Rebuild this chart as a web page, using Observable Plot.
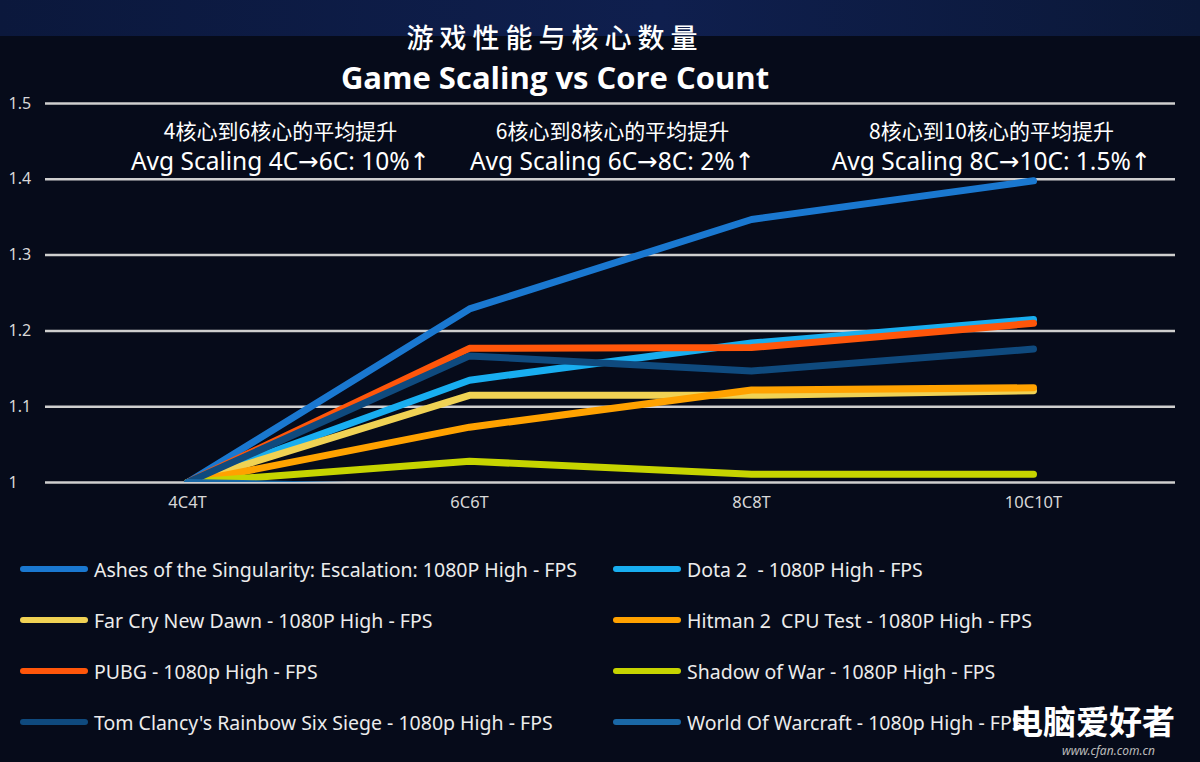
<!DOCTYPE html>
<html><head><meta charset="utf-8">
<script src="https://cdn.jsdelivr.net/npm/d3@7"></script>
<script src="https://cdn.jsdelivr.net/npm/@observablehq/plot@0.6"></script>
<style>
html,body{margin:0;padding:0;}
body{width:1200px;height:762px;overflow:hidden;background:#060b1a;font-family:"Noto Sans","Noto Sans CJK SC",sans-serif;color:#fff;position:relative;}
#band{position:absolute;left:0;top:0;width:1200px;height:36px;background:linear-gradient(90deg,#0b183c,#0f1f4e 55%,#0b1838);}
.t{position:absolute;left:0;width:1110px;text-align:center;color:#fff;white-space:nowrap;}
#t1{top:18px;line-height:38px;font-size:27px;font-weight:500;letter-spacing:6px;font-family:"Noto Sans CJK SC",sans-serif;}
#t2{top:55px;line-height:44px;font-size:31px;font-weight:700;font-family:"Open Sans","Noto Sans",sans-serif;}
#chart{position:absolute;left:0;top:90px;}
#legend{position:absolute;left:0;top:545px;width:1200px;}
.li{position:absolute;display:flex;align-items:center;height:26px;font-size:19.5px;color:#ececec;white-space:pre;}
.sw{width:68px;height:6px;border-radius:3px;margin-right:6px;}
#wm{position:absolute;left:1010px;top:700px;font-size:33px;font-weight:700;color:#fff;font-family:"Noto Sans CJK SC",sans-serif;line-height:40px;}
#wm2{position:absolute;left:1062px;top:742px;font-size:12px;font-style:italic;color:#bbb;}
</style></head>
<body>
<div id="band"></div>
<div class="t" id="t1">游戏性能与核心数量</div>
<div class="t" id="t2">Game Scaling vs Core Count</div>
<div id="chart"></div>
<div id="legend"></div>
<div id="wm">电脑爱好者</div>
<div id="wm2">www.cfan.com.cn</div>
<script>
const categories = ["4C4T", "6C6T", "8C8T", "10C10T"];
const seriesNames = [
  "Ashes of the Singularity: Escalation: 1080P High - FPS",
  "Dota 2  - 1080P High - FPS",
  "Far Cry New Dawn - 1080P High - FPS",
  "Hitman 2  CPU Test - 1080P High - FPS",
  "PUBG - 1080p High - FPS",
  "Shadow of War - 1080P High - FPS",
  "Tom Clancy's Rainbow Six Siege - 1080p High - FPS",
  "World Of Warcraft - 1080p High - FPS"
];
const seriesColors = ["#1a78d0", "#18aef0", "#f0d254", "#ffa200", "#ff560a", "#c6d400", "#0f4a7e", "#1a68a6"];
const ashes   = [1, 1.229, 1.347, 1.398];
const dota    = [1, 1.135, 1.184, 1.215];
const farCry  = [1, 1.115, 1.115, 1.121];
const hitman  = [1, 1.073, 1.122, 1.125];
const pubg    = [1, 1.177, 1.178, 1.210];
const shadow  = [1, 1.028, 1.011, 1.011];
const rainbow = [1, 1.167, 1.147, 1.176];
const wow     = [1, 0.993, 0.992, 0.993];
const seriesValues = [ashes, dota, farCry, hitman, pubg, shadow, rainbow, wow];
const yTicks = [1, 1.1, 1.2, 1.3, 1.4, 1.5];
const annoFrom = ["4C4T", "6C6T", "10C10T"];
const annoCn = ["4核心到6核心的平均提升", "6核心到8核心的平均提升", "8核心到10核心的平均提升"];
const annoEn = ["Avg Scaling 4C→6C: 10%↑", "Avg Scaling 6C→8C: 2%↑", "Avg Scaling 8C→10C: 1.5%↑"];

const rows = [];
seriesNames.forEach((s, i) => categories.forEach((c, j) => rows.push({series: s, cat: c, value: seriesValues[i][j]})));

const annoOffsets = [93, 143, -42];
const annoMarks = [];
annoFrom.forEach((c, i) => {
  annoMarks.push(Plot.text([{cat: c, v: 1.4625, t: annoCn[i]}], {x: "cat", y: "v", text: "t", dx: annoOffsets[i], fill: "#fff", fontSize: 21, fontFamily: "Noto Sans CJK SC, sans-serif"}));
  annoMarks.push(Plot.text([{cat: c, v: 1.4225, t: annoEn[i]}], {x: "cat", y: "v", text: "t", dx: annoOffsets[i], fill: "#fff", fontSize: 24.5, fontFamily: "Noto Sans, DejaVu Sans, sans-serif"}));
});

const fmt = d => String(+d.toFixed(1));
const chart = Plot.plot({
  width: 1200, height: 432,
  marginTop: 13, marginBottom: 40, marginLeft: 45, marginRight: 25,
  style: {background: "transparent", color: "#d8d8d8", fontFamily: "Noto Sans, sans-serif", fontSize: "16px"},
  x: {type: "point", domain: categories, padding: 0.5, label: null},
  y: {domain: [1, 1.5], label: null},
  color: {domain: seriesNames, range: seriesColors},
  marks: [
    Plot.ruleY(yTicks, {stroke: "#cfcfcf", strokeWidth: 2.5}),
    Plot.axisY({ticks: yTicks, tickSize: 0, tickPadding: 37, textAnchor: "start", tickFormat: fmt, fill: "#d8d8d8", fontSize: 16, label: null}),
    Plot.axisX({tickSize: 0, tickPadding: 14, fill: "#d8d8d8", fontSize: 16.5, label: null}),
    Plot.line(rows, {x: "cat", y: "value", z: "series", stroke: "series", strokeWidth: 7, strokeLinecap: "round", strokeLinejoin: "round", clip: true}),
    ...annoMarks
  ]
});
document.getElementById("chart").appendChild(chart);

const legend = document.getElementById("legend");
seriesNames.forEach((s, i) => {
  const col = i % 2, row = Math.floor(i / 2);
  const d = document.createElement("div");
  d.className = "li";
  d.style.left = (col === 0 ? 20 : 613) + "px";
  d.style.top = (row * 51 + 11) + "px";
  d.innerHTML = `<div class="sw" style="background:${seriesColors[i]}"></div><span></span>`;
  d.querySelector("span").textContent = s;
  legend.appendChild(d);
});
</script>
</body></html>
